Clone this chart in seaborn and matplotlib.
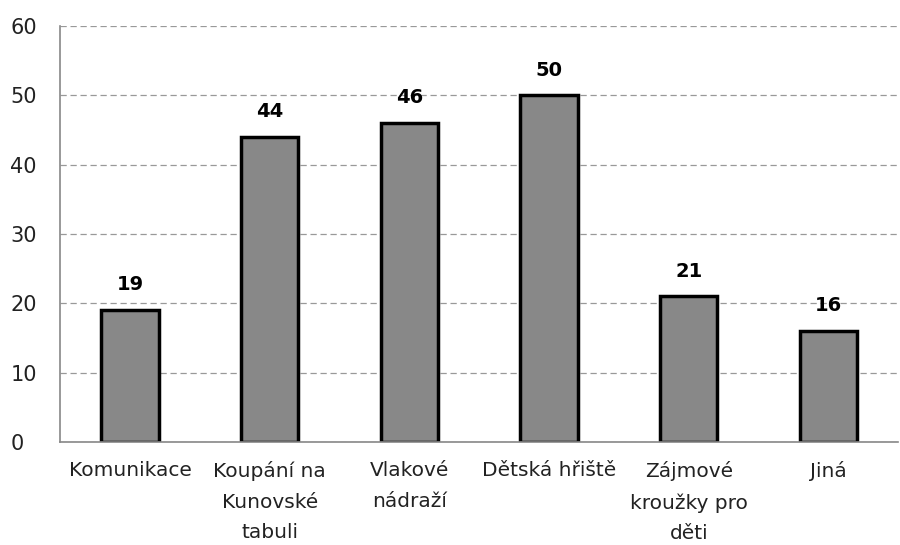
import pandas as pd
import matplotlib.pyplot as plt
import seaborn as sns

CATEGORIES = ['Komunikace', 'Koupání na\nKunovské\ntabuli', 'Vlakové\nnádraží',
              'Dětská hřiště', 'Zájmové\nkroužky pro\nděti', 'Jiná']
VALUES = [19, 44, 46, 50, 21, 16]

df = pd.DataFrame({'cat': CATEGORIES, 'val': VALUES})

sns.set_style('white')
plt.rcParams['font.family'] = ['DejaVu Sans']

fig = plt.figure(figsize=(9, 5.45), dpi=100)
ax = fig.add_axes([0.067, 0.189, 0.931, 0.763])

sns.barplot(data=df, x='cat', y='val', color='#888888', width=0.41,
            edgecolor='black', linewidth=2.5, saturation=1, ax=ax)

for i, v in enumerate(VALUES):
    ax.text(i, v + 2.3, str(v), ha='center', va='bottom', fontsize=14,
            fontweight='bold', color='black')

ax.set_ylim(0, 60)
ax.set_yticks(range(0, 61, 10))
ax.yaxis.grid(True, linestyle=(0, (5, 3)), color='#999999', linewidth=0.9)
ax.set_axisbelow(True)
ax.set_xlabel('')
ax.set_ylabel('')
ax.tick_params(axis='y', length=0, pad=36, labelsize=15, labelcolor='#222222')
for lbl in ax.get_yticklabels():
    lbl.set_horizontalalignment('left')
ax.tick_params(axis='x', length=0, pad=14, labelsize=14.5, labelcolor='#222222')
for lbl in ax.get_xticklabels():
    lbl.set_linespacing(1.75)
for s in ['top', 'right']:
    ax.spines[s].set_visible(False)
for s in ['left', 'bottom']:
    ax.spines[s].set_color('#888888')
    ax.spines[s].set_linewidth(1.2)
ax.set_xlim(-0.5, 5.5)

fig.savefig('out.png', dpi=100)
